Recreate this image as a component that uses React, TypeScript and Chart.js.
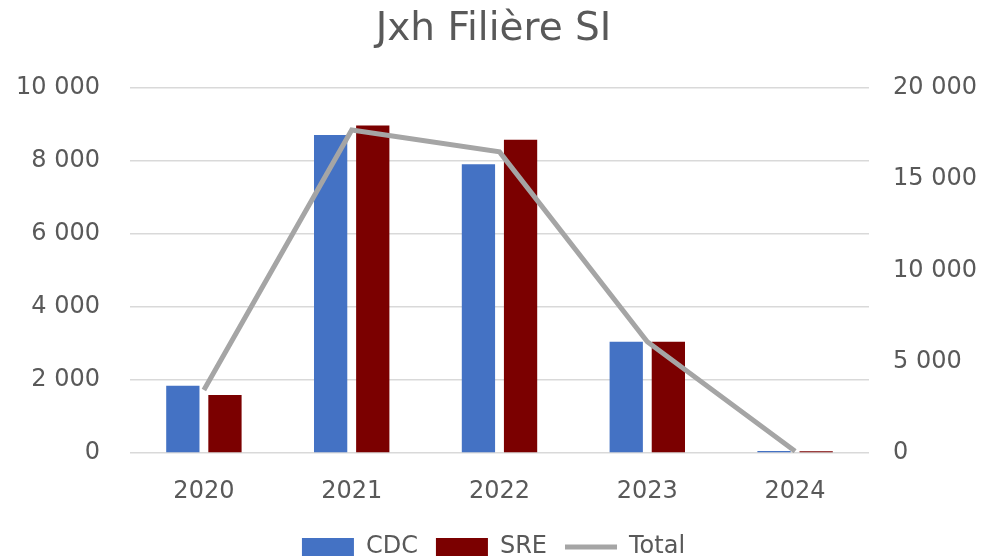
import React, { useEffect, useRef } from "react";
import { Chart, registerables } from "chart.js";

Chart.register(...registerables);

const categories = ["2020", "2021", "2022", "2023", "2024"];
const cdcValues = [1840, 8710, 7910, 3050, 55];
const sreValues = [1590, 8970, 8580, 3050, 50];
const totalValues = [3450, 17700, 16500, 6100, 100];
const leftTicks = [0, 2000, 4000, 6000, 8000, 10000];
const rightTicks = [0, 5000, 10000, 15000, 20000];

const FONT = "'DejaVu Sans', sans-serif";
const TEXT = "#595959";

const fmt = (v: number) => String(Math.round(v)).replace(/\B(?=(\d{3})+(?!\d))/g, " ");

export default function App() {
  const ref = useRef<HTMLCanvasElement | null>(null);
  useEffect(() => {
    document.body.style.margin = "0";
    const ctx = ref.current!.getContext("2d")!;
    const chart = new Chart(ctx, {
      type: "bar",
      data: {
        labels: categories,
        datasets: [
          { type: "bar", label: "CDC", data: cdcValues, backgroundColor: "#4472C4", yAxisID: "y", order: 2, pointStyle: "rect", barPercentage: 0.79, categoryPercentage: 0.57 },
          { type: "bar", label: "SRE", data: sreValues, backgroundColor: "#7B0000", yAxisID: "y", order: 2, pointStyle: "rect", barPercentage: 0.79, categoryPercentage: 0.57 },
          { type: "line", label: "Total", data: totalValues, borderColor: "#A5A5A5", backgroundColor: "#A5A5A5", borderWidth: 5, pointRadius: 0, yAxisID: "y1", order: 1, pointStyle: "line", tension: 0 } as any,
        ],
      },
      options: {
        animation: false,
        responsive: false,
        maintainAspectRatio: false,
        layout: { padding: { left: 0, right: 0, top: 0, bottom: -12 } },
        plugins: {
          tooltip: { enabled: false },
          title: {
            display: true,
            text: "Jxh Filière SI",
            color: TEXT,
            font: { family: FONT, size: 39, weight: "normal", lineHeight: 1.2 },
            padding: { top: 6, bottom: 35.2 },
          },
          legend: {
            position: "bottom",
            labels: {
              usePointStyle: true,
              pointStyleWidth: 52,
              boxHeight: 18,
              color: TEXT,
              font: { family: FONT, size: 24 },
              padding: 18,
              sort: (a: any, b: any) => a.datasetIndex - b.datasetIndex,
            },
          },
        },
        scales: {
          x: {
            grid: { display: false, drawTicks: false },
            border: { display: false },
            ticks: { color: TEXT, font: { family: FONT, size: 24 }, padding: 24 },
            afterFit: (s: any) => { s.height = 64; },
          },
          y: {
            position: "left",
            min: 0,
            max: 10000,
            afterBuildTicks: (s: any) => { s.ticks = leftTicks.map((v) => ({ value: v })); },
            grid: { color: "#D9D9D9", lineWidth: 1.5, drawTicks: false },
            border: { display: false },
            ticks: { color: TEXT, font: { family: FONT, size: 24 }, padding: 30, callback: (v: any) => fmt(Number(v)) },
            afterFit: (s: any) => { s.width = 130; },
          },
          y1: {
            position: "right",
            min: 0,
            max: 20000,
            afterBuildTicks: (s: any) => { s.ticks = rightTicks.map((v) => ({ value: v })); },
            grid: { display: false, drawTicks: false },
            border: { display: false },
            ticks: { color: TEXT, font: { family: FONT, size: 24 }, padding: 24, callback: (v: any) => fmt(Number(v)) },
            afterFit: (s: any) => { s.width = 118; },
          },
        },
      } as any,
    });
    return () => chart.destroy();
  }, []);
  return <canvas ref={ref} width={987} height={557} style={{ display: "block" }} />;
}
